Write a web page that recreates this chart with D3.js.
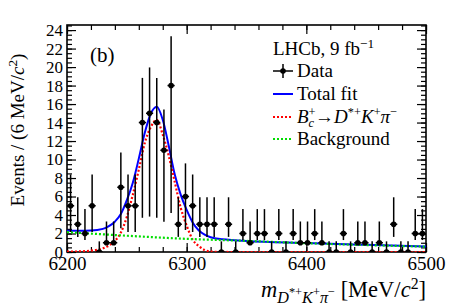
<!DOCTYPE html>
<html>
<head>
<meta charset="utf-8">
<script src="https://cdn.jsdelivr.net/npm/d3@7"></script>
<style>
  body { margin: 0; background: #fff; }
  text { font-family: "Liberation Serif", "Times New Roman", serif; fill: #000; }
</style>
</head>
<body>
<svg id="chart" width="449" height="306"></svg>
<script>
// bin centres (6 MeV bins) and event counts
var binCenters = [6203,6209,6215,6221,6227,6233,6239,6245,6251,6257,6263,6269,6275,6281,6287,6293,6299,6305,6311,6317,
                  6323,6329,6335,6341,6347,6353,6359,6365,6371,6377,6383,6389,6395,6401,6407,6413,6419,6425,6431,6437,
                  6443,6449,6455,6461,6467,6473,6479,6485,6491,6497];
var counts = [5,3,2,5,0,1,1,7,5,5,14,15,14,11,18,3,6,5,3,3,
              3,0,3,0,2,1,2,2,0,2,0,2,1,1,2,1,0,0,2,0,
              1,1,0,1,0,3,0,0,2,2];

// poisson (Garwood) error bars, indexed by count
var errLow  = [0,0.173,0.708,1.367,2.086,2.840,3.620,4.419,5.232,6.057,6.891,7.734,8.585,9.441,10.30,11.17,12.04,12.92,13.79];
var errHigh = [1.15,3.300,4.638,5.918,7.163,8.382,9.584,10.77,11.95,13.11,14.27,15.42,16.56,17.70,18.83,19.96,21.08,22.20,23.32];

// fit curves
var fitMass   = [6200,6210,6220,6230,6235,6240,6245,6250,6255,6260,6265,6270,6275,6280,6285,6290,6295,6300,6305,6310,6315,6320,6330,6340,6350,6400,6450,6500];
var totalFit  = [2.3,2.3,2.32,2.5,2.8,3.28,4.1,5.6,7.5,10.1,12.9,14.95,15.7,14.3,11.5,8.4,6.2,4.55,3.2,2.35,1.87,1.6,1.38,1.28,1.2,0.98,0.78,0.6];
var signalFit = [0.03,0.06,0.15,0.4,0.7,1.2,2.1,3.8,6.2,8.9,11.8,13.5,14.3,12.7,10.4,7.6,4.8,2.85,1.35,0.65,0.22,0.05,0.01,0,0,0,0,0];
var bkgMass   = [6200,6250,6300,6350,6400,6450,6500];
var bkgFit    = [2.15,1.76,1.42,1.2,0.95,0.75,0.58];

var xTicks = [6200,6300,6400,6500];
var yTicks = [0,2,4,6,8,10,12,14,16,18,20,22,24];

var svg = d3.select('#chart');
var pLeft = 67, pRight = 426, pTop = 25, pBottom = 252;

var x = d3.scaleLinear().domain([6200, 6500]).range([pLeft, pRight]);
var y = d3.scaleLinear().domain([0, 24.55]).range([pBottom, pTop]);

// axes with inward ticks
function noLabel() { return ''; }
var xMinor = d3.range(6200, 6501, 20);
var yMinor = d3.range(0, 24.6, 0.5);
svg.append('g').attr('transform', 'translate(0,' + pBottom + ')')
  .call(d3.axisBottom(x).tickValues(xMinor).tickSize(-5).tickFormat(noLabel));
svg.append('g').attr('class', 'xlab').attr('transform', 'translate(0,' + pBottom + ')')
  .call(d3.axisBottom(x).tickValues(xTicks).tickSize(-9).tickPadding(5).tickFormat(d3.format('d')));
svg.append('g').attr('transform', 'translate(0,' + pTop + ')')
  .call(d3.axisTop(x).tickValues(xMinor).tickSize(-5).tickFormat(noLabel));
svg.append('g').attr('transform', 'translate(0,' + pTop + ')')
  .call(d3.axisTop(x).tickValues(xTicks).tickSize(-9).tickFormat(noLabel));
svg.append('g').attr('transform', 'translate(' + pLeft + ',0)')
  .call(d3.axisLeft(y).tickValues(yMinor).tickSize(-5).tickFormat(noLabel));
svg.append('g').attr('class', 'ylab').attr('transform', 'translate(' + pLeft + ',0)')
  .call(d3.axisLeft(y).tickValues(yTicks).tickSize(-9).tickPadding(4));
svg.append('g').attr('transform', 'translate(' + pRight + ',0)')
  .call(d3.axisRight(y).tickValues(yMinor).tickSize(-5).tickFormat(noLabel));
svg.append('g').attr('transform', 'translate(' + pRight + ',0)')
  .call(d3.axisRight(y).tickValues(yTicks).tickSize(-9).tickFormat(noLabel));

svg.selectAll('.domain').remove();
svg.selectAll('.tick line').attr('stroke', '#000').attr('stroke-width', 1.2);
svg.selectAll('.xlab .tick text').attr('font-size', 19);
svg.selectAll('.ylab .tick text').attr('font-size', 17);

svg.append('rect').attr('x', pLeft).attr('y', pTop).attr('width', pRight - pLeft).attr('height', pBottom - pTop)
  .attr('fill', 'none').attr('stroke', '#000').attr('stroke-width', 1.6);

// clip region for curves
svg.append('clipPath').attr('id', 'plotclip').append('rect')
  .attr('x', pLeft).attr('y', pTop).attr('width', pRight - pLeft).attr('height', pBottom - pTop);

var plot = svg.append('g').attr('clip-path', 'url(#plotclip)');

var line = d3.line().x(function(d){ return x(d[0]); }).y(function(d){ return y(d[1]); }).curve(d3.curveMonotoneX);

plot.append('path').datum(d3.zip(fitMass, totalFit)).attr('d', line)
  .attr('fill', 'none').attr('stroke', '#0000ff').attr('stroke-width', 2);
plot.append('path').datum(d3.zip(fitMass, signalFit)).attr('d', line)
  .attr('fill', 'none').attr('stroke', '#ff0000').attr('stroke-width', 2.2).attr('stroke-dasharray', '2,2');
plot.append('path').datum(d3.zip(bkgMass, bkgFit)).attr('d', line)
  .attr('fill', 'none').attr('stroke', '#00dd00').attr('stroke-width', 2.2).attr('stroke-dasharray', '2,2');

// data points with error bars
var pts = plot.selectAll('.pt').data(d3.zip(binCenters, counts)).enter().append('g').attr('class', 'pt');
pts.append('line')
  .attr('x1', function(d){ return x(d[0]); }).attr('x2', function(d){ return x(d[0]); })
  .attr('y1', function(d){ return y(d[1] - errLow[d[1]]); })
  .attr('y2', function(d){ return y(errHigh[d[1]]); })
  .attr('stroke', '#000').attr('stroke-width', 1.5);
pts.append('line')
  .attr('x1', function(d){ return x(d[0] - 3); }).attr('x2', function(d){ return x(d[0] + 3); })
  .attr('y1', function(d){ return y(d[1]); }).attr('y2', function(d){ return y(d[1]); })
  .attr('stroke', '#000').attr('stroke-width', 1.5);
pts.append('circle')
  .attr('cx', function(d){ return x(d[0]); }).attr('cy', function(d){ return y(d[1]); })
  .attr('r', 2.8).attr('fill', '#000');

// rich text helper: parts = [text, italic, shift, scale, dx]
function rich(sel, parts, size) {
  var prev = 0;
  parts.forEach(function(p) {
    var t = sel.append('tspan').text(p[0]).attr('font-size', size * (p[3] || 1));
    if (p[1]) t.attr('font-style', 'italic');
    t.attr('dy', (p[2] || 0) - prev);
    if (p[4]) t.attr('dx', p[4]);
    prev = p[2] || 0;
  });
}

// y title
var yt = svg.append('text').attr('transform', 'translate(24,130) rotate(-90)')
  .attr('text-anchor', 'middle').attr('font-size', 19);
rich(yt, [['Events / (6 MeV/', 0, 0], ['c', 1, 0], ['2', 0, -7, 0.7], [')', 0, 0]], 19);

// x title
var xt = svg.append('text').attr('x', pRight).attr('y', 297).attr('text-anchor', 'end');
rich(xt, [['m', 1, 0], ['D', 1, 6, 0.72], ['*+', 0, -1, 0.55], ['K', 1, 6, 0.72], ['+', 0, -1, 0.55], ['\u03c0', 1, 6, 0.72], ['\u2212', 0, -1, 0.55],
          [' [MeV/', 0, 0], ['c', 1, 0], ['2', 0, -8, 0.7], [']', 0, 0]], 22.5);

// panel label
svg.append('text').attr('x', 90).attr('y', 62).attr('font-size', 21).text('(b)');

// legend
var lx = 273, tx = 297;
var lh = svg.append('text').attr('x', lx).attr('y', 55);
rich(lh, [['LHCb, 9 fb', 0, 0], ['\u22121', 0, -7, 0.7]], 19);

var rows = [77, 100, 123, 145];
var leg = svg.append('g');
leg.append('line').attr('x1', lx).attr('x2', lx + 20).attr('y1', rows[0] - 6).attr('y2', rows[0] - 6).attr('stroke', '#000').attr('stroke-width', 1.5);
leg.append('line').attr('x1', lx + 10).attr('x2', lx + 10).attr('y1', rows[0] - 13).attr('y2', rows[0] + 1).attr('stroke', '#000').attr('stroke-width', 1.5);
leg.append('circle').attr('cx', lx + 10).attr('cy', rows[0] - 6).attr('r', 2.8).attr('fill', '#000');
leg.append('line').attr('x1', lx).attr('x2', lx + 20).attr('y1', rows[1] - 6).attr('y2', rows[1] - 6).attr('stroke', '#0000ff').attr('stroke-width', 2);
leg.append('line').attr('x1', lx).attr('x2', lx + 20).attr('y1', rows[2] - 6).attr('y2', rows[2] - 6).attr('stroke', '#ff0000').attr('stroke-width', 2).attr('stroke-dasharray', '2,2');
leg.append('line').attr('x1', lx).attr('x2', lx + 20).attr('y1', rows[3] - 6).attr('y2', rows[3] - 6).attr('stroke', '#00dd00').attr('stroke-width', 2).attr('stroke-dasharray', '2,2');

svg.append('text').attr('x', tx).attr('y', rows[0]).attr('font-size', 19).text('Data');
svg.append('text').attr('x', tx).attr('y', rows[1]).attr('font-size', 19).text('Total fit');
var st = svg.append('text').attr('x', tx).attr('y', rows[2]);
rich(st, [['B', 1, 0], ['+', 0, -7, 0.65], ['c', 1, 4, 0.65, -7], ['\u2192', 0, 0, 1, 1], ['D', 1, 0], ['*+', 0, -7, 0.65], ['K', 1, 0], ['+', 0, -7, 0.65], ['\u03c0', 1, 0], ['\u2212', 0, -7, 0.65]], 19);
svg.append('text').attr('x', tx).attr('y', rows[3]).attr('font-size', 19).text('Background');
</script>
</body>
</html>
